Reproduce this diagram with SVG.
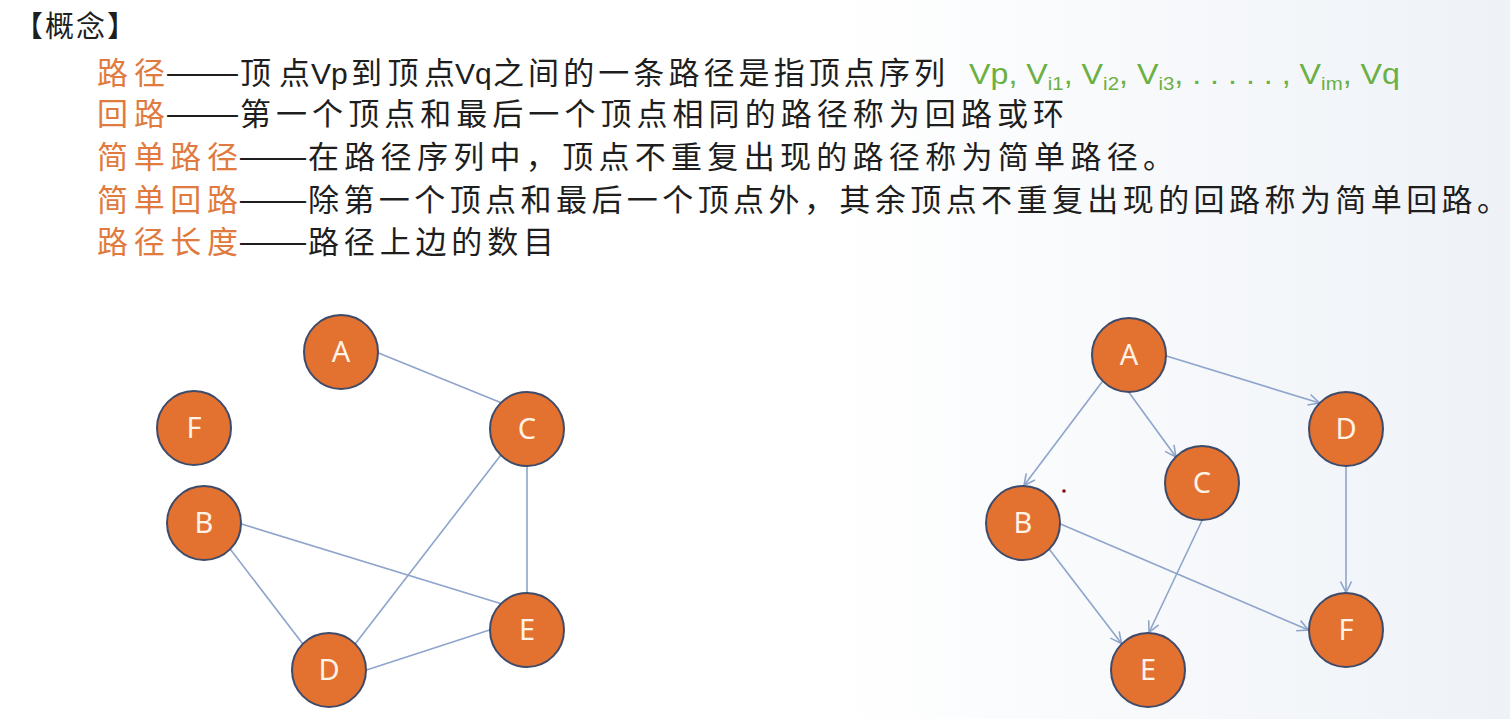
<svg xmlns="http://www.w3.org/2000/svg" width="1510" height="719" viewBox="0 0 1510 719">
<defs>
<linearGradient id="bg" x1="0" y1="0" x2="1" y2="0">
<stop offset="0" stop-color="#FFFFFF"/>
<stop offset="0.55" stop-color="#FFFFFF"/>
<stop offset="1" stop-color="#EEF2F7"/>
</linearGradient>
<marker id="arr" markerUnits="userSpaceOnUse" markerWidth="14" markerHeight="14" refX="12" refY="7" orient="auto">
<path d="M1,1.5 L12,7 L1,12.5" fill="none" stroke="#8EA4CB" stroke-width="1.6"/>
</marker>
<style>
.cjk{font-family:"Noto Sans CJK SC","Noto Sans",sans-serif;font-size:31px;}
.term{fill:#E07A3E;}
.body{fill:#1E1E1E;}
.lat{font-family:"Liberation Sans","Noto Sans",sans-serif;font-size:30px;fill:#1E1E1E;}
.grn{font-family:"Liberation Sans","Noto Sans",sans-serif;font-size:30px;fill:#6CB043;}
.sub{font-size:19px;}
.edge{stroke:#8EA4CB;stroke-width:1.6;fill:none;}
.node circle{fill:#E3712F;stroke:#3E4B6A;stroke-width:2;}
.node text{font-family:"Noto Sans","Open Sans",sans-serif;font-size:29px;fill:#FFF2E6;text-anchor:middle;}
</style>
</defs>
<rect x="0" y="0" width="1510" height="719" fill="url(#bg)"/>

<g id="text">
<text class="cjk body" x="14" y="37" style="font-size:29px" textLength="122" lengthAdjust="spacing">【概念】</text>

<text class="cjk term" x="97" y="84" textLength="68" lengthAdjust="spacing">路径</text>
<text class="cjk body" x="165" y="84" textLength="75" lengthAdjust="spacingAndGlyphs">——</text>
<text class="cjk body" x="240" y="84" textLength="70" lengthAdjust="spacing">顶点</text>
<text class="lat" x="311" y="84">Vp</text>
<text class="cjk body" x="351" y="84" textLength="104" lengthAdjust="spacing">到顶点</text>
<text class="lat" x="455" y="84">Vq</text>
<text class="cjk body" x="493" y="84" textLength="452" lengthAdjust="spacing">之间的一条路径是指顶点序列</text>
<text class="grn" x="969" y="84" textLength="431" lengthAdjust="spacingAndGlyphs">Vp, V<tspan class="sub" dy="6">i1</tspan><tspan dy="-6">, V</tspan><tspan class="sub" dy="6">i2</tspan><tspan dy="-6">, V</tspan><tspan class="sub" dy="6">i3</tspan><tspan dy="-6">, . . . . . , V</tspan><tspan class="sub" dy="6">im</tspan><tspan dy="-6">, Vq</tspan></text>

<text class="cjk term" x="97" y="125" textLength="68" lengthAdjust="spacing">回路</text>
<text class="cjk body" x="165" y="125" textLength="75" lengthAdjust="spacingAndGlyphs">——</text>
<text class="cjk body" x="240" y="125" textLength="824" lengthAdjust="spacing">第一个顶点和最后一个顶点相同的路径称为回路或环</text>

<text class="cjk term" x="97" y="168" textLength="141" lengthAdjust="spacing">简单路径</text>
<text class="cjk body" x="238" y="168" textLength="70" lengthAdjust="spacingAndGlyphs">——</text>
<text class="cjk body" x="308" y="168" textLength="866" lengthAdjust="spacing">在路径序列中，顶点不重复出现的路径称为简单路径。</text>

<text class="cjk term" x="97" y="211" textLength="141" lengthAdjust="spacing">简单回路</text>
<text class="cjk body" x="238" y="211" textLength="70" lengthAdjust="spacingAndGlyphs">——</text>
<text class="cjk body" x="308" y="211" textLength="1200" lengthAdjust="spacing">除第一个顶点和最后一个顶点外，其余顶点不重复出现的回路称为简单回路。</text>

<text class="cjk term" x="97" y="253" textLength="141" lengthAdjust="spacing">路径长度</text>
<text class="cjk body" x="238" y="253" textLength="70" lengthAdjust="spacingAndGlyphs">——</text>
<text class="cjk body" x="308" y="253" textLength="246" lengthAdjust="spacing">路径上边的数目</text>
</g>

<g id="connectors">
<line class="edge" x1="378.5" y1="353" x2="500.5" y2="402.5"/>
<line class="edge" x1="527" y1="466.5" x2="527" y2="592.5"/>
<line class="edge" x1="500.5" y1="455.5" x2="355.5" y2="643.5"/>
<line class="edge" x1="241.5" y1="524" x2="500.5" y2="603.5"/>
<line class="edge" x1="230.5" y1="549.5" x2="302.5" y2="643.5"/>
<line class="edge" x1="366.5" y1="670" x2="489.5" y2="630"/>

<line class="edge" x1="1102" y1="382" x2="1024" y2="485.5" marker-end="url(#arr)"/>
<line class="edge" x1="1129" y1="392.5" x2="1176" y2="457" marker-end="url(#arr)"/>
<line class="edge" x1="1166.5" y1="356" x2="1319.5" y2="403" marker-end="url(#arr)"/>
<line class="edge" x1="1346" y1="466.5" x2="1346" y2="592.5" marker-end="url(#arr)"/>
<line class="edge" x1="1060.5" y1="524" x2="1308.5" y2="630" marker-end="url(#arr)"/>
<line class="edge" x1="1049.5" y1="549.5" x2="1121.5" y2="643.5" marker-end="url(#arr)"/>
<line class="edge" x1="1202" y1="520.5" x2="1149" y2="632.5" marker-end="url(#arr)"/>
</g>

<g id="L-A" class="node"><circle cx="341" cy="352" r="37"/><text x="341" y="362">A</text></g>
<g id="L-F" class="node"><circle cx="194" cy="428" r="37"/><text x="194" y="438">F</text></g>
<g id="L-C" class="node"><circle cx="527" cy="429" r="37"/><text x="527" y="439">C</text></g>
<g id="L-B" class="node"><circle cx="204" cy="523" r="37"/><text x="204" y="533">B</text></g>
<g id="L-E" class="node"><circle cx="527" cy="630" r="37"/><text x="527" y="640">E</text></g>
<g id="L-D" class="node"><circle cx="329" cy="670" r="37"/><text x="329" y="680">D</text></g>

<g id="R-A" class="node"><circle cx="1129" cy="355" r="37"/><text x="1129" y="365">A</text></g>
<g id="R-D" class="node"><circle cx="1346" cy="429" r="37"/><text x="1346" y="439">D</text></g>
<g id="R-C" class="node"><circle cx="1202" cy="483" r="37"/><text x="1202" y="493">C</text></g>
<g id="R-B" class="node"><circle cx="1023" cy="523" r="37"/><text x="1023" y="533">B</text></g>
<g id="R-F" class="node"><circle cx="1346" cy="630" r="37"/><text x="1346" y="640">F</text></g>
<g id="R-E" class="node"><circle cx="1148" cy="670" r="37"/><text x="1148" y="680">E</text></g>

<circle cx="1064" cy="491" r="1.8" fill="#8B0A0A"/>
</svg>
